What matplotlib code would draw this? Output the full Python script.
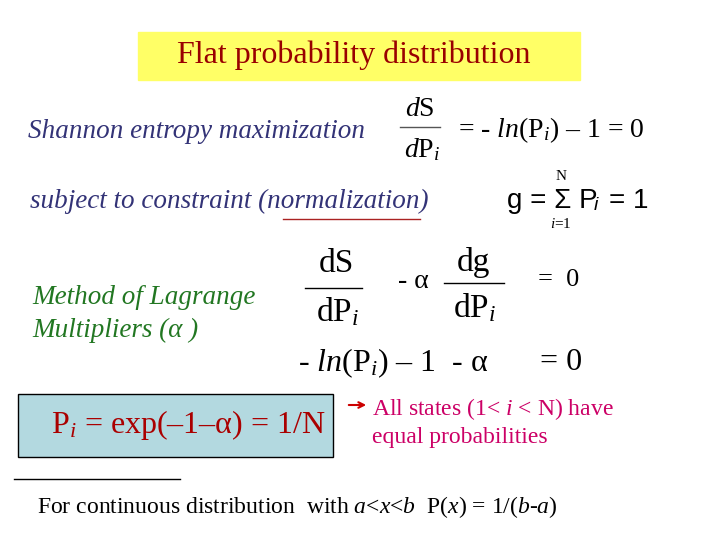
import matplotlib
matplotlib.use("Agg")
import matplotlib.pyplot as plt
from matplotlib.patches import Rectangle
from matplotlib.lines import Line2D

plt.rcParams['font.family'] = ['Liberation Serif', 'DejaVu Serif']
plt.rcParams['mathtext.fontset'] = 'custom'
plt.rcParams['mathtext.rm'] = 'Liberation Serif'
plt.rcParams['mathtext.it'] = 'Liberation Serif:italic'
plt.rcParams['mathtext.sf'] = 'Liberation Sans'

title = "Flat probability distribution"
lines_text = ["Shannon entropy maximization", "subject to constraint (normalization)",
              "Method of Lagrange", "Multipliers (α )"]

W, H = 720, 540
fig = plt.figure(figsize=(7.2, 5.4), dpi=100)
ax = fig.add_axes([0, 0, 1, 1])
ax.set_xlim(0, W); ax.set_ylim(H, 0); ax.axis('off')

def T(x, y, s, size=16, ha='left', color='black', style='normal', family=None, va='center'):
    kw = {}
    if family: kw['family'] = family
    ax.text(x, y, s, fontsize=size, ha=ha, va=va, color=color, style=style, **kw)

def L(x0, x1, y, color='black', lw=1):
    ax.add_line(Line2D([x0, x1], [y, y], color=color, lw=lw))

ax.add_patch(Rectangle((138, 32), 442, 48, color='#ffff66', zorder=0))
T(354, 55, title, size=23, ha='center', color='#990000')

T(28, 132, lines_text[0], size=19.5, color='#333377', style='italic')
T(420, 109, r'$d$S', size=20, ha='center')
L(400, 440, 127, color='#555555')
T(422, 150, r'$d$P$_{i}$', size=20, ha='center')
T(458, 130, r'= - $ln$(P$_{i}$) – 1 = 0', size=20)

T(30, 201, lines_text[1], size=19.5, color='#333377', style='italic')
L(283, 420, 219, color='#aa2222')
T(507, 201, 'g = Σ P', size=20, family='Liberation Sans')
T(594, 206, 'i', size=14, family='Liberation Sans', style='italic')
T(609, 201, '= 1', size=20, family='Liberation Sans')
T(561, 177, 'N', size=11, ha='center')
T(561, 224, r'$i$=1', size=11, ha='center')

T(32, 297, lines_text[2], size=19.5, color='#227722', style='italic')
T(32, 330, lines_text[3], size=19.5, color='#227722', style='italic')

T(336, 264, 'dS', size=24, ha='center')
L(305, 362, 288)
T(338, 312, r'dP$_{i}$', size=24, ha='center')
T(398, 282, '- α', size=20)
T(473, 262, 'dg', size=24, ha='center')
L(444, 504, 283)
T(475, 308, r'dP$_{i}$', size=24, ha='center')
T(538, 280, '=  0', size=19)

T(298, 363, r'- $ln$(P$_{i}$) – 1  - α', size=23)
T(540, 363, '= 0', size=23)

ax.add_patch(Rectangle((18, 394), 315, 63, facecolor='#b3d9e0', edgecolor='black', lw=1))
T(188, 425, r'P$_{i}$ = exp(–1–α) = 1/N', size=23, ha='center', color='#aa0000')
ax.annotate('', xy=(369, 405), xytext=(346, 405),
            arrowprops=dict(arrowstyle='->', color='#cc0000', lw=1.5))
T(372, 409, r'All states (1< $i$ < N) have', size=17, color='#cc0066')
T(372, 437, 'equal probabilities', size=17, color='#cc0066')

L(14, 180, 479)
T(37, 507, r'For continuous distribution  with $a$<$x$<$b$  P($x$) = 1/($b$-$a$)', size=17)

fig.savefig('out.png', dpi=100)
